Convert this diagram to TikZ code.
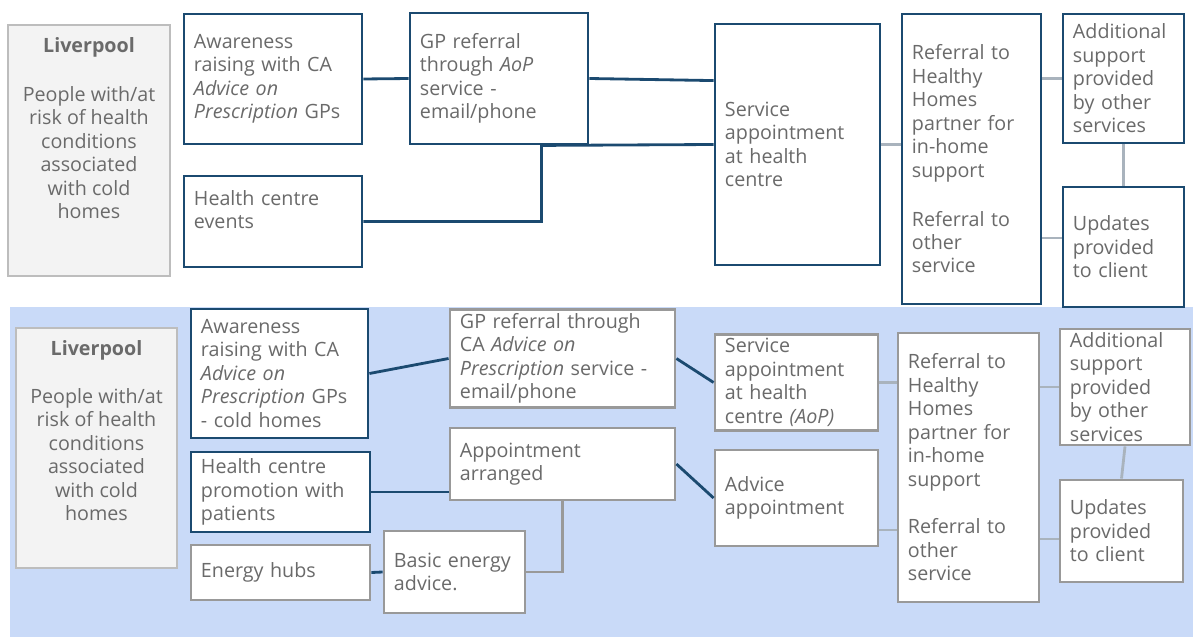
\documentclass[tikz,border=0pt]{standalone}
\usepackage{fontspec}
\setmainfont{Open Sans}
\usepackage{xcolor}
\definecolor{navyLine}{HTML}{1B4A70}
\definecolor{textGray}{HTML}{6A6A6A}
\definecolor{boxGray}{HTML}{999999}
\definecolor{linkGray}{HTML}{A9B3BD}
\definecolor{panelBlue}{HTML}{C9DAF8}
\definecolor{livFill}{HTML}{F3F3F3}
\definecolor{livEdge}{HTML}{BDBDBD}
\usetikzlibrary{calc, positioning}

\begin{document}
\begin{tikzpicture}[
        x=0.025cm, y=-0.025cm,
        baseBox/.style={
            fill=white,
            line width=2pt,
            inner xsep=0.25cm,
            inner ysep=3pt,
            align=left,
            text=textGray,
            font=\fontsize{14pt}{16.7pt}\selectfont
        },
        navyBox/.style={baseBox, draw=navyLine},
        grayBox/.style={baseBox, draw=boxGray},
        boxSize/.style 2 args={text width=#1, minimum height=#2},
        livBox/.style={
            draw=livEdge,
            fill=livFill,
            line width=2pt
        },
        livText/.style={
            anchor=north,
            inner sep=0pt,
            yshift=-0.35cm,
            align=center,
            text=textGray,
            font=\fontsize{14pt}{16.7pt}\selectfont
        },
        navyLink/.style={draw=navyLine, line width=2pt},
        grayLink/.style={draw=linkGray, line width=2pt}
    ]
    \useasboundingbox (0,0) rectangle (1193,637);
    \fill[panelBlue] (10,307) rectangle (1193,637);

    % Top row
    \node[livBox, minimum width=4.05cm, minimum height=6.275cm] (liv1) at (89,150.5) {};
    \node[livText] (liv1txt) at (liv1.north) {\textbf{Liverpool}\\[0.63cm]People with/at\\risk of health\\conditions\\associated\\with cold\\homes};
    \node[navyBox, boxSize={3.95cm}{3.25cm}] (aware1) at (273,79) {Awareness\\raising with CA\\\textit{Advice on}\\\textit{Prescription} GPs};
    \node[navyBox, boxSize={3.95cm}{2.275cm}] (events1) at (273,221.5) {Health centre\\events\\\mbox{}};
    \node[navyBox, boxSize={3.95cm}{3.275cm}] (gpref1) at (499,78.5) {GP referral\\through \textit{AoP}\\service -\\email/phone};
    \node[navyBox, boxSize={3.625cm}{6.025cm}] (svc1) at (797.5,144.5) {Service\\appointment\\at health\\centre};
    \node[navyBox, boxSize={2.975cm}{7.25cm}] (refer1) at (971.5,159) {Referral to\\Healthy\\Homes\\partner for\\in-home\\support\\[0.63cm]Referral to\\other\\service};
    \node[navyBox, boxSize={2.525cm}{3.225cm}] (addl1) at (1123.5,78.5) {Additional\\support\\provided\\by other\\services};
    \node[navyBox, boxSize={2.525cm}{3.0cm}] (upd1) at (1123.5,247) {Updates\\provided\\to client};

    \coordinate (svcIn) at ([yshift=-1.45cm]svc1.north west);
    \coordinate (upd1In) at ([yshift=0.225cm]upd1.west);
    \draw[navyLink] (aware1.east) -- (gpref1.west);
    \draw[navyLink] (gpref1.east) -- (svcIn);
    \draw[navyLink] (events1.east) -| ([xshift=-1.2cm]gpref1.south east) -- (svc1.west);
    \draw[grayLink] (svc1.east) -- (svc1.east -| refer1.west);
    \draw[grayLink] (addl1.west -| refer1.east) -- (addl1.west);
    \draw[grayLink] (upd1In -| refer1.east) -- (upd1In);
    \draw[grayLink] (addl1.south) -- (upd1.north);

    % Bottom row
    \node[livBox, minimum width=4.025cm, minimum height=6cm] (liv2) at (96.5,448) {};
    \node[livText] (liv2txt) at (liv2.north) {\textbf{Liverpool}\\[0.6cm]People with/at\\risk of health\\conditions\\associated\\with cold\\homes};
    \node[navyBox, boxSize={3.925cm}{3.225cm}] (aware2) at (279.5,373.5) {Awareness\\raising with CA\\\textit{Advice on}\\\textit{Prescription} GPs\\- cold homes};
    \node[navyBox, boxSize={3.975cm}{2cm}] (promo2) at (280.5,492) {Health centre\\promotion with\\patients};
    \node[grayBox, boxSize={3.975cm}{1.375cm}] (hubs2) at (280.5,572.5) {Energy hubs};
    \node[grayBox, boxSize={3.025cm}{2.05cm}] (basic2) at (454.5,572) {Basic energy\\advice.};
    \node[grayBox, boxSize={5.125cm}{2.425cm}] (gpref2) at (562.5,358.5) {GP referral through\\CA \textit{Advice on}\\\textit{Prescription} service -\\email/phone};
    \node[grayBox, boxSize={5.125cm}{1.8cm}] (appt2) at (562.5,464) {Appointment\\arranged};
    \node[grayBox, boxSize={3.575cm}{2.375cm}] (svc2) at (796.5,382.5) {Service\\appointment\\at health\\centre \textit{(AoP)}};
    \node[grayBox, boxSize={3.575cm}{2.4cm}] (advice2) at (796.5,498) {Advice\\appointment};
    \node[grayBox, boxSize={3.025cm}{6.725cm}] (refer2) at (968.5,467.5) {Referral to\\Healthy\\Homes\\partner for\\in-home\\support\\[0.6cm]Referral to\\other\\service};
    \node[grayBox, boxSize={2.75cm}{2.9cm}, inner ysep=0pt] (addl2) at (1125,387) {Additional\\support\\provided\\by other\\services};
    \node[grayBox, boxSize={2.575cm}{2.55cm}] (upd2) at (1121.5,531) {Updates\\provided\\to client};

    \coordinate (adviceOut) at ([yshift=-0.8cm]advice2.east);
    \coordinate (upd2In) at ([yshift=-0.2cm]upd2.west);
    \draw[navyLink] (aware2.east) -- (gpref2.west);
    \draw[navyLink] (promo2.east) -- (promo2.east -| appt2.west);
    \draw[navyLink] (hubs2.east) -- (basic2.west);
    \draw[draw=boxGray, line width=2pt] (basic2.east) -| (appt2.south);
    \draw[navyLink] (gpref2.east) -- (svc2.west);
    \draw[navyLink] (appt2.east) -- (advice2.west);
    \draw[grayLink] (svc2.east) -- (svc2.east -| refer2.west);
    \draw[grayLink] (adviceOut) -- (adviceOut -| refer2.west);
    \draw[grayLink] (addl2.west -| refer2.east) -- (addl2.west);
    \draw[grayLink] (upd2In -| refer2.east) -- (upd2In);
    \draw[grayLink] (addl2.south) -- (upd2.north);
\end{tikzpicture}
\end{document}
